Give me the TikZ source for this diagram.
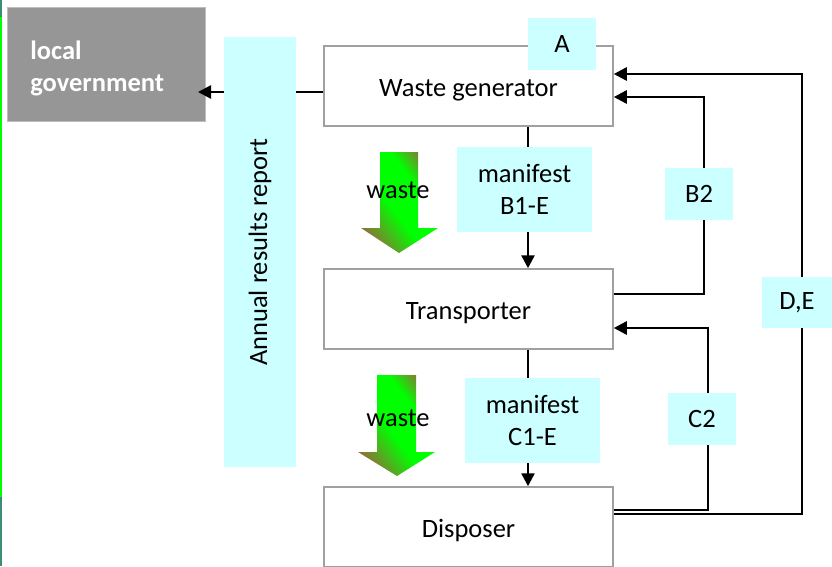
\documentclass[tikz,border=0pt]{standalone}
\usepackage{fontspec}
\setmainfont{Carlito}
\usetikzlibrary{arrows.meta}
\definecolor{labcyan}{RGB}{204,255,255}
\definecolor{boxgray}{RGB}{160,160,160}
\definecolor{govgray}{RGB}{150,150,150}
\definecolor{edgeteal}{RGB}{60,140,120}
\definecolor{edgegreen}{RGB}{0,255,0}
\definecolor{wasteolive}{RGB}{140,115,55}
\pgfdeclarehorizontalshading{wasteshade}{100bp}{color(0bp)=(wasteolive); color(27bp)=(wasteolive); color(45bp)=(edgegreen); color(61bp)=(edgegreen); color(73bp)=(wasteolive); color(100bp)=(wasteolive)}
\tikzset{
  txt/.style={font=\fontsize{26.5}{32}\selectfont},
  actor/.style={draw=boxgray, line width=1.5pt, fill=white, minimum width=289pt, minimum height=80pt, txt, text height=25pt, text depth=5pt},
  lab/.style={fill=labcyan, inner sep=0pt, align=center, txt},
  conn/.style={draw=black, line width=2.5pt},
  arr/.style={conn, -{Triangle[length=13pt,width=13pt]}},
}
\begin{document}
\begin{tikzpicture}[x=1pt,y=-1pt]
\useasboundingbox (0,0) rectangle (832,566);
% left edge strip
\fill[edgeteal] (0,0) rectangle (2,17);
\fill[edgegreen] (0,17) rectangle (2,497);
\fill[edgeteal] (0,497) rectangle (2,566);

% local government
\node[fill=govgray, draw=boxgray!70, line width=1pt, minimum width=198pt, minimum height=114pt] (gov) at (106.8,64) {};
\node[text width=152pt, inner xsep=0pt, align=left, text=white,
      font=\fontsize{26.5}{32}\selectfont\bfseries] (govlabel) at ([xshift=-0.5pt,yshift=-4pt]gov.center) {local\\government};

% main boxes
\node[actor] (wg) at (468.5,86) {Waste generator};
\node[actor] (tr) at (468.5,309) {Transporter};
\node[actor] (dis) at (468.5,527) {Disposer};

% connectors
\coordinate (govin) at (198,92);
\draw[arr] ([yshift=-6pt]wg.west) -- (govin);
\draw[arr] ([xshift=59.5pt]wg.south) -- ([xshift=59.5pt]tr.north);
\draw[arr] ([xshift=59.5pt]tr.south) -- ([xshift=59.5pt]dis.north);
\draw[arr] ([yshift=13pt]dis.east) -- ++(188,0) |- ([yshift=12pt]wg.east);
\draw[arr] ([yshift=15pt]tr.east) -- ++(90,0) |- ([yshift=-11pt]wg.east);
\draw[arr] ([yshift=17pt]dis.east) -- ++(94,0) |- ([yshift=-19pt]tr.east);

% labels
\node[lab, minimum width=72pt, minimum height=430pt] (annual) at (260,252) {};
\node[txt, rotate=90] (annualtxt) at (annual.center) {Annual results report};
\node[lab, minimum width=68pt, minimum height=52pt] (A) at (562,44) {A};
\node[lab, minimum width=135pt, minimum height=85pt] (b1) at (524.5,189.5) {manifest\\B1-E};
\node[lab, minimum width=135pt, minimum height=85pt] (c1) at (532.5,420.5) {manifest\\C1-E};
\node[lab, minimum width=68pt, minimum height=52pt] (b2) at (699,194) {B2};
\node[lab, minimum width=68pt, minimum height=52pt] (c2) at (702,419) {C2};
\node[lab, minimum width=70pt, minimum height=51pt] (de) at (797,302.5) {D,E};

% waste block arrows
\begin{scope}
  \clip (380,152) -- (418,152) -- (418,228) -- (438,228) -- (399,253) -- (361,228) -- (380,228) -- cycle;
  \begin{scope}[transform canvas={rotate around={37:(399,200)}}]
    \shade[shading=wasteshade] (349,110) rectangle (449,290);
  \end{scope}
\end{scope}
\node[txt] (w1) at (398,190) {waste};
\begin{scope}
  \clip (377,375) -- (416,375) -- (416,452) -- (435,452) -- (397,476) -- (358,452) -- (377,452) -- cycle;
  \begin{scope}[transform canvas={rotate around={37:(397,423)}}]
    \shade[shading=wasteshade] (347,333) rectangle (447,513);
  \end{scope}
\end{scope}
\node[txt] (w2) at (398,418) {waste};
\end{tikzpicture}
\end{document}
